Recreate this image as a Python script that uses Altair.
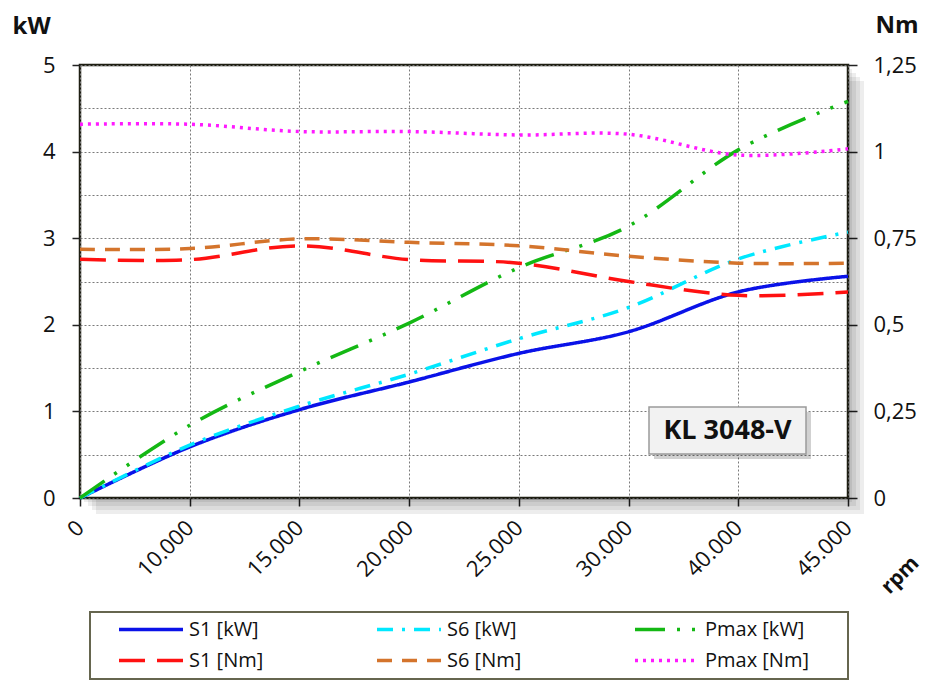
import altair as alt
import pandas as pd

# ---------------- data ----------------
RPM_LABELS = ["0", "10.000", "15.000", "20.000", "25.000", "30.000", "40.000", "45.000"]

S1_KW = [0.0, 0.59, 1.02, 1.34, 1.67, 1.92, 2.38, 2.56]
S6_KW = [0.0, 0.61, 1.06, 1.43, 1.84, 2.20, 2.76, 3.07]
PMAX_KW = [0.0, 0.84, 1.46, 2.02, 2.66, 3.14, 4.02, 4.58]

S1_NM = [0.689, 0.688, 0.728, 0.688, 0.678, 0.625, 0.585, 0.595]
S6_NM = [0.718, 0.720, 0.748, 0.738, 0.728, 0.698, 0.678, 0.678]
PMAX_NM = [1.079, 1.079, 1.058, 1.058, 1.048, 1.050, 0.990, 1.008]

SERIES_KW = ["S1 [kW]", "S6 [kW]", "Pmax [kW]"]
SERIES_NM = ["S1 [Nm]", "S6 [Nm]", "Pmax [Nm]"]
# legend fills column by column: order pairs so rows read kW / Nm
LEGEND_ORDER = ["S1 [kW]", "S1 [Nm]", "S6 [kW]", "S6 [Nm]", "Pmax [kW]", "Pmax [Nm]"]
COLORS = ["#0a12e8", "#ff1111", "#00e8ff", "#d4742c", "#14b814", "#ff1aff"]
DASHES = [[1, 0], [26, 12], [16, 9, 3, 9], [15, 10], [30, 12, 3, 12, 3, 12], [3, 5]]

KW_TICKS = [0, 0.5, 1, 1.5, 2, 2.5, 3, 3.5, 4, 4.5, 5]
NM_TICKS = [0, 0.25, 0.5, 0.75, 1, 1.25]
MODEL_LABEL = "KL 3048-V"

W, H = 768, 433
FONT = "Open Sans"
INK = "#111111"


def long_table(names, arrays):
    rows = []
    for name, vals in zip(names, arrays):
        for i, (lab, v) in enumerate(zip(RPM_LABELS, vals)):
            rows.append({"series": name, "rpm": lab, "idx": i, "value": v})
    return pd.DataFrame(rows)


kw_df = long_table(SERIES_KW, [S1_KW, S6_KW, PMAX_KW])
nm_df = long_table(SERIES_NM, [S1_NM, S6_NM, PMAX_NM])

legend = alt.Legend(
    title=None, orient="none", legendX=37, legendY=549, columns=3,
    columnPadding=82, rowPadding=0, padding=0, gridAlign="all", clipHeight=31,
    symbolType="stroke", symbolSize=4096, symbolStrokeWidth=3.5,
    labelFont=FONT, labelFontSize=20, labelColor=INK, labelOffset=4, labelLimit=300,
)

color = alt.Color("series:N", scale=alt.Scale(domain=LEGEND_ORDER, range=COLORS), legend=legend)
dash = alt.StrokeDash("series:N", scale=alt.Scale(domain=LEGEND_ORDER, range=DASHES), legend=legend)

x_enc = alt.X(
    "rpm:O", sort=RPM_LABELS, scale=alt.Scale(type="point", padding=0),
    axis=alt.Axis(
        title="rpm", titleAngle=315, titleX=820, titleY=77, titleAlign="center",
        titleBaseline="middle", titleFont=FONT, titleFontSize=21, titleFontWeight="bold",
        titleColor=INK, labelAngle=315, labelAlign="right", labelBaseline="middle",
        labelPadding=18, labelFont=FONT, labelFontSize=22, labelColor=INK,
        grid=True, gridDash=[2, 2], gridColor="#7a7a7a", gridWidth=1,
        ticks=True, tickSize=8, tickColor="#222222", tickWidth=1.5, domain=False,
    ),
)

kw_lines = alt.Chart(kw_df).mark_line(interpolate="cardinal", strokeWidth=3.5).encode(
    x=x_enc,
    y=alt.Y(
        "value:Q", scale=alt.Scale(domain=[0, 5], nice=False),
        axis=alt.Axis(
            values=KW_TICKS, labelExpr="datum.value % 1 === 0 ? toString(datum.value) : ''",
            title="kW", titleAngle=0, titleX=-68, titleY=-32, titleAlign="left",
            titleBaseline="alphabetic", titleFont=FONT, titleFontSize=24,
            titleFontWeight="bold", titleColor=INK,
            labelFont=FONT, labelFontSize=22, labelColor=INK, labelPadding=17,
            grid=True, gridDash=[2, 2], gridColor="#7a7a7a", gridWidth=1,
            tickSize=8, tickWidth=1.5,
            tickColor={"condition": {"test": "datum.value % 1 === 0", "value": "#222222"},
                       "value": "transparent"},
            domain=False,
        ),
    ),
    color=color, strokeDash=dash, order=alt.Order("idx:Q"),
)

nm_lines = alt.Chart(nm_df).mark_line(interpolate="cardinal", strokeWidth=3.5).encode(
    x=x_enc,
    y=alt.Y(
        "value:Q", scale=alt.Scale(domain=[0, 1.25], nice=False),
        axis=alt.Axis(
            orient="right", values=NM_TICKS,
            labelExpr="replace(toString(datum.value), '.', ',')",
            title="Nm", titleAngle=0, titleX=27, titleY=-33, titleAlign="left",
            titleBaseline="alphabetic", titleFont=FONT, titleFontSize=24,
            titleFontWeight="bold", titleColor=INK,
            labelFont=FONT, labelFontSize=22, labelColor=INK, labelPadding=16,
            grid=False, tickSize=9, tickWidth=1.5, tickColor="#222222", domain=False,
        ),
    ),
    color=color, strokeDash=dash, order=alt.Order("idx:Q"),
)

one = alt.Data(values=[{"k": 0}])

# soft drop shadow of the plot frame (right and bottom)
shadow_layers = []
for d in [4, 8, 12, 16]:
    shadow_layers.append(
        alt.Chart(one).mark_rect(color="black", opacity=0.07).encode(
            x=alt.value(W), x2=alt.value(W + d), y=alt.value(d), y2=alt.value(H + d)))
    shadow_layers.append(
        alt.Chart(one).mark_rect(color="black", opacity=0.07).encode(
            x=alt.value(d), x2=alt.value(W), y=alt.value(H), y2=alt.value(H + d)))

# legend frame
legend_box = alt.Chart(one).mark_rect(fill="white", stroke="#66664f", strokeWidth=2).encode(
    x=alt.value(10), x2=alt.value(W), y=alt.value(547), y2=alt.value(614))

# model label box
label_shadow = alt.Chart(one).mark_rect(color="black", opacity=0.18).encode(
    x=alt.value(574), x2=alt.value(731), y=alt.value(347), y2=alt.value(394))
label_box = alt.Chart(one).mark_rect(fill="#f2f2f2", stroke="#9a9a9a", strokeWidth=1.5).encode(
    x=alt.value(569), x2=alt.value(726), y=alt.value(342), y2=alt.value(389))
label_text = alt.Chart(one).mark_text(
    font=FONT, fontSize=27, fontWeight="bold", color=INK, align="center", baseline="middle"
).encode(x=alt.value(647.5), y=alt.value(366), text=alt.value(MODEL_LABEL))

chart = alt.layer(
    *shadow_layers, legend_box, kw_lines, nm_lines, label_shadow, label_box, label_text
).resolve_scale(y="independent").properties(
    width=W, height=H,
    autosize=alt.AutoSizeParams(type="none"),
    padding={"left": 72, "top": 57, "right": 82, "bottom": 182},
    background="white",
).configure_view(stroke="#1e1e12", strokeWidth=2.5)

chart.save("out.html", embed_options={"renderer": "svg", "actions": False})
